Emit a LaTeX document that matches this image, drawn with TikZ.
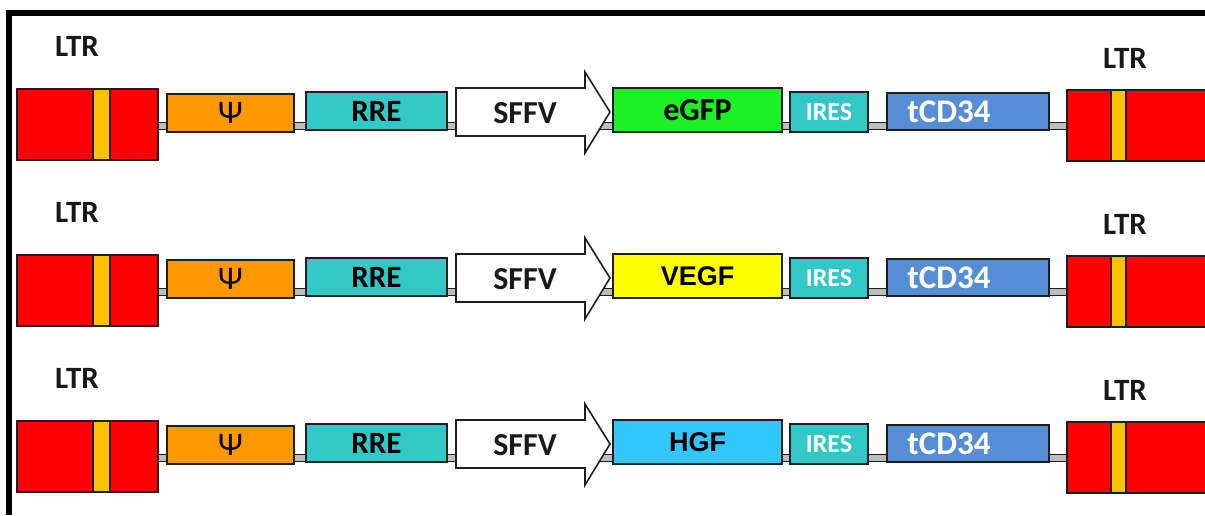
\documentclass[tikz,border=0pt]{standalone}
\usepackage{fontspec}
\setmainfont{Carlito}
\newfontfamily\arialfont{Liberation Sans}
\usetikzlibrary{calc}

\definecolor{ltrred}{RGB}{255,0,0}
\definecolor{ltrstripe}{RGB}{255,192,0}
\definecolor{psiorange}{RGB}{255,153,0}
\definecolor{tealbox}{RGB}{51,200,200}
\definecolor{egfp}{RGB}{30,240,40}
\definecolor{vegf}{RGB}{255,255,0}
\definecolor{hgf}{RGB}{51,199,255}
\definecolor{cdblue}{RGB}{85,142,213}
\definecolor{bbgrey}{RGB}{190,190,190}
\definecolor{edge}{RGB}{30,30,30}

\pgfdeclarelayer{back}
\pgfsetlayers{back,main}

\tikzset{
  part/.style={draw=edge, line width=1.6pt, inner sep=0pt, outer sep=0pt},
  lbl/.style={font=\bfseries\fontsize{31}{32}\selectfont, text=black!90, inner sep=0pt},
  backbone/.style={draw=edge, line width=1pt, double=bbgrey, double distance=6.5pt},
}

\begin{document}
\begin{tikzpicture}[x=1pt,y=-1pt]
\useasboundingbox (0,0) rectangle (1205,515);
\begin{scope}
\clip (0,0) rectangle (1205,515);

% frame along the top and the left side
\fill[black] (6,10) rectangle (1205,16);
\fill[black] (6,10) rectangle (12,515);

\foreach \r/\dy/\gene/\gcol/\gfont in {1/0/eGFP/egfp/\fontsize{32}{33}\selectfont,
                                         2/166/VEGF/vegf/\arialfont\fontsize{27}{29}\selectfont,
                                         3/332/HGF/hgf/\arialfont\fontsize{27}{29}\selectfont}{
  % 5' LTR
  \node[lbl] (ltrLlab\r) at (77,\dy+46) {LTR};
  \node[part, fill=ltrred, minimum width=141pt, minimum height=71pt] (ltrL\r) at (87.5,\dy+124.5) {};
  \node[part, fill=ltrstripe, minimum width=17pt, minimum height=71pt] (ltrLs\r) at (101.5,\dy+124.5) {};
  % packaging signal
  \node[part, fill=psiorange, minimum width=127pt, minimum height=38pt,
        font=\fontsize{33}{34}\selectfont] (psi\r) at (230.5,\dy+113) {Ψ};
  % Rev response element
  \node[part, fill=tealbox, minimum width=141pt, minimum height=38pt,
        font=\bfseries\fontsize{31}{32}\selectfont] (rre\r) at (376.5,\dy+111) {RRE};
  % SFFV promoter arrow
  \draw[part, fill=white] (456,\dy+88) -- (585,\dy+88) -- (585,\dy+72) -- (610,\dy+112)
        -- (585,\dy+153) -- (585,\dy+136) -- (456,\dy+136) -- cycle;
  \node[lbl, font=\bfseries\fontsize{32}{33}\selectfont] (sffv\r) at (525,\dy+113) {SFFV};
  % transgene
  \node[part, fill=\gcol, minimum width=169pt, minimum height=44pt,
        font=\bfseries\gfont] (gene\r) at (697.5,\dy+110) {\gene};
  % IRES
  \node[part, fill=tealbox, minimum width=78pt, minimum height=40pt, text=white,
        font=\bfseries\fontsize{26}{27}\selectfont] (ires\r) at (829,\dy+112) {IRES};
  % truncated CD34 marker
  \node[part, fill=cdblue, minimum width=162pt, minimum height=37pt] (cd\r) at (968,\dy+111.5) {};
  \node[lbl, text=white, font=\bfseries\fontsize{33}{34}\selectfont] (cdlab\r) at (949,\dy+112) {tCD34};
  % 3' LTR
  \node[lbl] (ltrRlab\r) at (1125,\dy+58) {LTR};
  \node[part, fill=ltrred, minimum width=150pt, minimum height=71pt] (ltrR\r) at (1142,\dy+125.5) {};
  \node[part, fill=ltrstripe, minimum width=15pt, minimum height=71pt] (ltrRs\r) at (1118.5,\dy+125.5) {};
  % vector backbone
  \begin{pgfonlayer}{back}
    \draw[backbone] (ltrL\r.east |- 0,\dy+126) -- (ltrR\r.west |- 0,\dy+126);
  \end{pgfonlayer}
}
\end{scope}
\end{tikzpicture}
\end{document}
